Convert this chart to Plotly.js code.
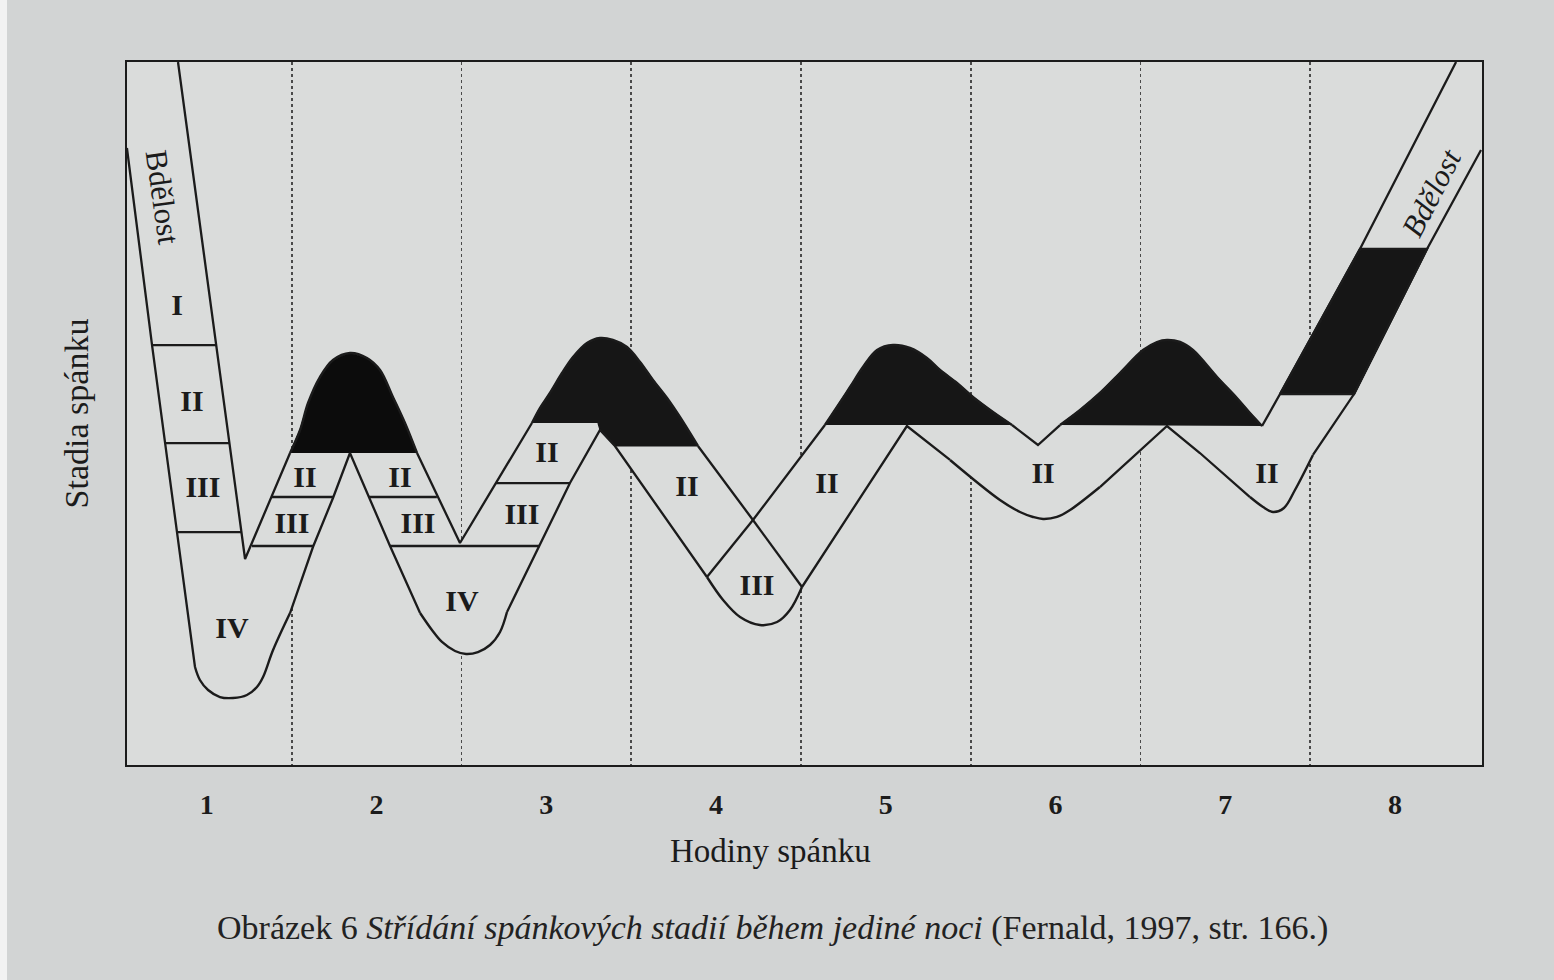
<!DOCTYPE html>
<html>
<head>
<meta charset="utf-8">
<script src="https://cdn.plot.ly/plotly-3.0.1.min.js"></script>
<style>
html,body{margin:0;padding:0;background:#d2d4d4;}
#chart{width:1554px;height:980px;}
</style>
</head>
<body>
<div id="chart"></div>
<script>
// ---------- DATA (x = hours of sleep, y = depth scale 0..10, top = awake) ----------
const tickHours  = [0.5, 1.5, 2.5, 3.5, 4.5, 5.5, 6.5, 7.5];
const tickLabels = ['1', '2', '3', '4', '5', '6', '7', '8'];
const gridHours  = [1, 2, 3, 4, 5, 6, 7];

// REM periods (dark areas): top outline, base closes the polygon
const rem2X = [0.990, 1.049, 1.096, 1.166, 1.243, 1.343, 1.443, 1.520, 1.596, 1.667, 1.738];
const rem2Y = [4.438, 4.765, 5.149, 5.519, 5.761, 5.861, 5.790, 5.619, 5.235, 4.865, 4.438];
const rem3X = [2.415, 2.462, 2.521, 2.592, 2.657, 2.739, 2.816, 2.892, 2.975, 3.052, 3.128, 3.211, 3.287, 3.393];
const rem3Y = [4.865, 5.078, 5.292, 5.576, 5.804, 6.003, 6.074, 6.046, 5.946, 5.733, 5.477, 5.220, 4.950, 4.538];
const rem3BaseX = [2.904, 2.816, 2.804];
const rem3BaseY = [4.538, 4.765, 4.865];
const rem5X = [4.141, 4.212, 4.289, 4.365, 4.448, 4.542, 4.642, 4.742, 4.819, 4.919, 5.013, 5.131, 5.243];
const rem5Y = [4.836, 5.092, 5.377, 5.661, 5.903, 5.974, 5.932, 5.790, 5.619, 5.434, 5.235, 5.021, 4.836];
const rem6X = [5.526, 5.644, 5.761, 5.879, 6.015, 6.097, 6.156, 6.233, 6.309, 6.451, 6.568, 6.645, 6.716];
const rem6Y = [4.836, 5.050, 5.292, 5.576, 5.903, 6.017, 6.046, 6.017, 5.903, 5.519, 5.220, 5.007, 4.822];
const rem7X = [6.822, 7.258, 7.688, 7.293];
const rem7Y = [5.277, 5.277, 7.340, 7.340];

// upper edge of the sleep band (between the REM periods)
const upperStartX = [0.330, 0.725];
const upperStartY = [10.00, 2.930];
const notch3X = [1.991], notch3Y = [3.158];
const cross4X = [3.717], cross4Y = [3.485];
const notch6X = [5.396], notch6Y = [4.552];
const upperEndX = [6.822, 7.293, 7.859];
const upperEndY = [5.277, 7.340, 10.00];

// lower edge of the sleep band
const lowerX = [0.029, 0.177, 0.324, 0.430, 0.459, 0.507, 0.577, 0.654, 0.736, 0.795, 0.831, 0.890, 0.990, 1.125, 1.243, 1.343,
                1.579, 1.756, 1.826, 1.885, 1.962, 2.027, 2.097, 2.168, 2.227, 2.268, 2.462, 2.639, 2.816, 2.904,
                3.446, 3.541, 3.641, 3.758, 3.859, 3.935, 4.006, 4.624, 4.878, 5.172, 5.290, 5.367, 5.426, 5.508,
                5.585, 5.761, 6.156, 6.350, 6.645, 6.722, 6.781, 6.845, 6.910, 7.016, 7.258, 7.688, 8.006];
const lowerY = [8.777, 5.974, 3.314, 1.394, 1.209, 1.067, 0.967, 0.953, 0.996, 1.110, 1.252, 1.636, 2.162, 3.101, 3.798, 4.438,
                3.115, 2.162, 1.920, 1.750, 1.622, 1.579, 1.607, 1.707, 1.892, 2.176, 3.129, 4.011, 4.765, 4.538,
                2.674, 2.347, 2.105, 1.991, 2.034, 2.205, 2.532, 4.822, 4.339, 3.770, 3.599, 3.528, 3.499, 3.528,
                3.627, 3.954, 4.822, 4.438, 3.812, 3.670, 3.599, 3.656, 3.912, 4.410, 5.277, 7.340, 8.748];
// index ranges of the rounded troughs on the lower edge (drawn smooth)
const troughRanges = [[3, 12], [17, 25], [30, 36], [38, 45], [48, 53]];

// horizontal boundaries between stages
const dividerX0 = [0.177, 0.253, 0.324, 0.766, 0.880, 1.455, 1.579, 2.203];
const dividerX1 = [0.555, 0.633, 0.703, 1.127, 1.245, 1.855, 2.462, 2.639];
const dividerY  = [5.974, 4.580, 3.314, 3.115, 3.812, 3.812, 3.115, 4.011];

// crossing edges inside hour 4 (stage II / III)
const innerX0 = [3.717, 3.446];
const innerY0 = [3.485, 2.674];
const innerX1 = [4.006, 3.717];
const innerY1 = [2.532, 3.485];

// stage labels
const stageText = ['I', 'II', 'III', 'IV', 'II', 'III', 'II', 'III', 'IV', 'II', 'III', 'II', 'III', 'II', 'II', 'II'];
const stageX    = [0.324, 0.412, 0.477, 0.648, 1.078, 1.001, 1.638, 1.744, 2.003, 2.504, 2.356, 3.328, 3.741, 4.153, 5.426, 6.745];
const stageY    = [6.515, 5.149, 3.926, 1.920, 4.068, 3.414, 4.068, 3.414, 2.304, 4.410, 3.528, 3.940, 2.518, 3.983, 4.125, 4.125];

const wakeText = 'Bdělost';
const wakeX = [0.236, 7.717];
const wakeY = [8.080, 8.137];

// ---------- BUILD ----------
const xRange = [0.0295, 8.0118];
const yRange = [0, 10];
const serif = '"Liberation Serif", "Times New Roman", serif';
const ink = '#1b1b1b';
const remInk = '#161616';
const paperTone = '#dadcdb';

const first = a => [a[0]];
const last = a => [a[a.length - 1]];

const upperX = upperStartX.concat(rem2X, notch3X, rem3X, cross4X, rem5X, notch6X, rem6X, upperEndX);
const upperY = upperStartY.concat(rem2Y, notch3Y, rem3Y, cross4Y, rem5Y, notch6Y, rem6Y, upperEndY);

// band outline (opaque paper colour hides the dotted hour lines)
const bandX = [xRange[0]].concat(upperX, [xRange[1]], lowerX.slice().reverse());
const bandY = [yRange[1]].concat(upperY, [yRange[1]], lowerY.slice().reverse());

function joinPieces(pieces) {
  const out = [];
  pieces.forEach((p, i) => { if (i) out.push(null); p.forEach(v => out.push(v)); });
  return out;
}
// straight parts of the upper edge (REM tops are drawn as smooth curves)
const upStraightX = joinPieces([
  upperStartX.concat(first(rem2X)), last(rem2X).concat(notch3X, first(rem3X)),
  last(rem3X).concat(cross4X, first(rem5X)), last(rem5X).concat(notch6X, first(rem6X)),
  last(rem6X).concat(upperEndX)]);
const upStraightY = joinPieces([
  upperStartY.concat(first(rem2Y)), last(rem2Y).concat(notch3Y, first(rem3Y)),
  last(rem3Y).concat(cross4Y, first(rem5Y)), last(rem5Y).concat(notch6Y, first(rem6Y)),
  last(rem6Y).concat(upperEndY)]);

// lower edge: straight pieces between troughs, smooth troughs
const straightRanges = [];
let s = 0;
troughRanges.forEach(r => { straightRanges.push([s, r[0]]); s = r[1]; });
straightRanges.push([s, lowerX.length - 1]);
const sl = (a, r) => a.slice(r[0], r[1] + 1);
const lowStraightX = joinPieces(straightRanges.map(r => sl(lowerX, r)));
const lowStraightY = joinPieces(straightRanges.map(r => sl(lowerY, r)));
const curveX = joinPieces(troughRanges.map(r => sl(lowerX, r)).concat([rem2X, rem3X, rem5X, rem6X]));
const curveY = joinPieces(troughRanges.map(r => sl(lowerY, r)).concat([rem2Y, rem3Y, rem5Y, rem6Y]));

function segs(x0, y0, x1, y1) {
  const xs = [], ys = [];
  for (let i = 0; i < x0.length; i++) { xs.push(x0[i], x1[i], null); ys.push(y0[i], y1[i], null); }
  return {xs, ys};
}
const div = segs(dividerX0, dividerY, dividerX1, dividerY);
const inner = segs(innerX0, innerY0, innerX1, innerY1);

function remTrace(x, y, color) {
  return {type: 'scatter', mode: 'lines', x: x, y: y, fill: 'toself', fillcolor: color,
          line: {color: color, width: 1.2}, hoverinfo: 'skip', showlegend: false};
}
function lineTrace(x, y, shape, color, width) {
  return {type: 'scatter', mode: 'lines', x: x, y: y,
          line: {color: color || ink, width: width || 2.3, shape: shape || 'linear', smoothing: 1},
          hoverinfo: 'skip', showlegend: false, connectgaps: false};
}

const traces = [
  {type: 'scatter', mode: 'lines', x: bandX, y: bandY, fill: 'toself', fillcolor: paperTone,
   line: {width: 0, color: paperTone}, hoverinfo: 'skip', showlegend: false},
  remTrace(rem2X, rem2Y, '#0c0c0c'),
  remTrace(rem3X.concat(rem3BaseX), rem3Y.concat(rem3BaseY), remInk),
  remTrace(rem5X, rem5Y, remInk),
  remTrace(rem6X, rem6Y, remInk),
  remTrace(rem7X, rem7Y, remInk),
  lineTrace(upStraightX, upStraightY),
  lineTrace(lowStraightX, lowStraightY),
  lineTrace(curveX, curveY, 'spline', ink, 2.4),
  lineTrace(div.xs, div.ys),
  lineTrace(inner.xs, inner.ys),
  lineTrace(rem7X.concat(first(rem7X)), rem7Y.concat(first(rem7Y))),
  {type: 'scatter', mode: 'text', x: stageX, y: stageY, text: stageText, textposition: 'middle center',
   textfont: {family: serif, size: 30, color: ink, weight: 'bold'}, hoverinfo: 'skip', showlegend: false, cliponaxis: false}
];

const layout = {
  width: 1554, height: 980,
  margin: {l: 127, r: 72, t: 62, b: 215},
  paper_bgcolor: '#d2d4d4',
  plot_bgcolor: paperTone,
  showlegend: false,
  xaxis: {
    range: xRange, fixedrange: true,
    tickmode: 'array', tickvals: tickHours, ticktext: tickLabels, ticks: '',
    ticklabelstandoff: 13,
    tickfont: {family: serif, size: 28, color: ink, weight: 'bold'},
    showgrid: false, zeroline: false,
    showline: true, mirror: true, linecolor: ink, linewidth: 2,
    minor: {tickmode: 'array', tickvals: gridHours, showgrid: true, gridcolor: '#4a4a4a',
            griddash: 'dot', gridwidth: 1.6, ticks: ''}
  },
  yaxis: {
    range: yRange, fixedrange: true,
    showticklabels: false, ticks: '', showgrid: false, zeroline: false,
    showline: true, mirror: true, linecolor: ink, linewidth: 2,
    title: {text: 'Stadia spánku', font: {family: serif, size: 34, color: ink}, standoff: 26}
  },
  annotations: [
    {x: wakeX[0], y: wakeY[0], xref: 'x', yref: 'y', text: wakeText, showarrow: false, textangle: 82,
     font: {family: serif, size: 31, color: ink}},
    {x: wakeX[1], y: wakeY[1], xref: 'x', yref: 'y', text: '<i>' + wakeText + '</i>', showarrow: false, textangle: -63,
     font: {family: serif, size: 31, color: ink}},
    {x: (770 - 127) / 1355, y: -0.1223, xref: 'paper', yref: 'paper', xanchor: 'center', yanchor: 'middle',
     showarrow: false, text: 'Hodiny spánku', font: {family: serif, size: 33, color: ink}},
    {x: (215 - 127) / 1355, y: -0.2319, xref: 'paper', yref: 'paper', xanchor: 'left', yanchor: 'middle',
     showarrow: false,
     text: 'Obrázek 6 <i>Střídání spánkových stadií během jediné noci</i> (Fernald, 1997, str. 166.)',
     font: {family: serif, size: 34, color: '#222'}}
  ],
  shapes: [
    {type: 'rect', xref: 'paper', yref: 'paper', x0: -0.2, x1: (7 - 127) / 1355, y0: -0.5, y1: 1.5,
     fillcolor: '#f2f2f2', line: {width: 0}, layer: 'above'}
  ]
};

Plotly.newPlot('chart', traces, layout, {staticPlot: true, displayModeBar: false});
</script>
</body>
</html>
